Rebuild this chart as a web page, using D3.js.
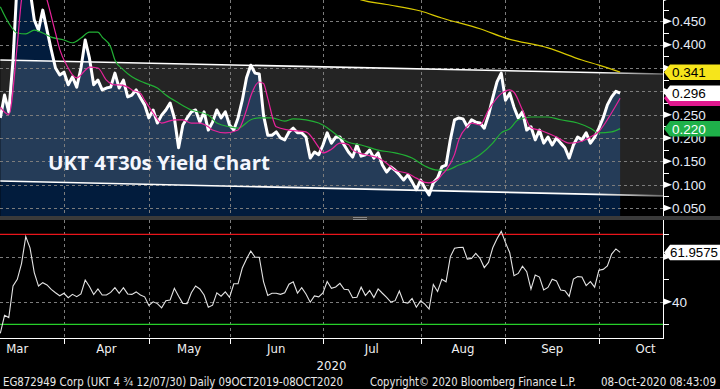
<!DOCTYPE html>
<html>
<head>
<meta charset="utf-8">
<script src="https://d3js.org/d3.v7.min.js"></script>
<style>
  body { margin: 0; background: #000; }
  svg { display: block; }
</style>
</head>
<body>
<script>
// one value per trading day, day 0 = first day in view (mid March 2020), day 146 = 08-Oct-2020
var yields = [0.243,0.292,0.256,0.367,0.539,0.581,0.560,0.517,0.453,0.431,
  0.474,0.431,0.389,0.350,0.335,0.341,0.314,0.331,0.309,0.350,
  0.410,0.371,0.314,0.324,0.303,0.307,0.309,0.339,0.307,0.324,
  0.288,0.292,0.303,0.286,0.271,0.243,0.260,0.232,0.249,0.260,
  0.275,0.243,0.179,0.228,0.243,0.256,0.260,0.234,0.256,0.217,
  0.234,0.260,0.243,0.256,0.228,0.217,0.243,0.281,0.329,0.356,
  0.339,0.337,0.249,0.206,0.206,0.213,0.200,0.196,0.213,0.221,
  0.211,0.211,0.202,0.157,0.170,0.164,0.185,0.211,0.189,0.202,
  0.202,0.185,0.170,0.159,0.185,0.161,0.164,0.174,0.157,0.168,
  0.142,0.127,0.138,0.131,0.121,0.110,0.121,0.106,0.089,0.110,
  0.093,0.078,0.104,0.114,0.138,0.142,0.196,0.239,0.243,0.241,
  0.224,0.239,0.234,0.232,0.221,0.249,0.286,0.320,0.339,0.281,
  0.296,0.266,0.243,0.256,0.217,0.224,0.196,0.217,0.189,0.202,
  0.185,0.200,0.189,0.179,0.157,0.185,0.202,0.196,0.211,0.189,
  0.202,0.221,0.243,0.271,0.288,0.300,0.296];

var rsi = [26,34,33,47,50,57,69,64,53,47,
  48.5,47.5,45.5,44,42.7,43.8,41.8,43.3,42.3,43.5,
  49.7,46.8,43.2,45.7,43,43,44.2,46.3,43.8,46.3,
  43.5,43.3,44.4,43,42.2,38.4,40,39.2,37.3,40.5,
  40.8,46,42.5,39.3,39.2,44,47,45.7,43,37.6,
  38.5,44,42.5,44.4,42,48,48,55,59,62.6,
  59.8,59.8,49,42.8,43.8,43.8,43.3,44,47.8,48.9,
  43.9,46.3,43.5,39.8,42.6,42.2,43.9,49,46,46.6,
  48.2,45.6,45.4,41.8,42,46.5,42.8,45,41.9,45.7,
  43.8,42,39.9,40.5,44.8,39.8,39.4,41.5,37.6,40.4,
  39,36.8,47.7,44.6,50,48.9,60,63.8,64.1,64.2,
  59,59.3,61.5,59.3,55.2,57.5,64,68,71.3,66.3,
  61.8,51.6,52.6,55.8,53.4,45.6,51.9,51,45.3,46.4,
  50,49.3,45.2,44.9,42.4,50.1,51.2,51,47.2,49,
  46.5,54,54.4,55.9,61.2,63.5,61.9575];

// moving averages, read at some of the trading days
var pinkDays = [0,2,4,5,7,9,11,13,14,16,17,18,20,21,23,25,27,28,30,31,33,34,36,38,41,43,45,47,49,50,
  53,56,58,59,61,62,63,65,68,72,75,76,78,80,82,83,86,89,91,93,96,98,100,101,103,104,105,107,108,110,
  111,113,115,118,120,121,123,125,127,129,131,134,137,139,141,144,146];
var pinkVals = [0.266,0.250,0.400,0.496,0.560,0.550,0.496,0.425,0.390,0.350,0.335,0.329,0.345,0.352,0.350,
  0.324,0.314,0.314,0.309,0.303,0.296,0.281,0.254,0.232,0.239,0.239,0.232,0.232,0.224,0.217,
  0.211,0.217,0.260,0.290,0.320,0.317,0.285,0.224,0.217,0.213,0.180,0.168,0.176,0.189,0.186,
  0.174,0.164,0.157,0.146,0.131,0.124,0.114,0.105,0.104,0.111,0.121,0.131,0.165,0.196,0.225,
  0.232,0.228,0.260,0.295,0.303,0.298,0.260,0.222,0.217,0.210,0.202,0.189,0.193,0.202,0.214,
  0.254,0.285];

var greenDays = [0,2,4,6,8,10,12,15,17,19,21,23,24,26,27,29,31,34,37,39,42,45,49,51,54,56,59,61,64,67,
  69,72,75,77,79,82,85,89,93,97,100,103,105,108,111,113,116,118,120,122,125,129,132,136,139,141,144,146];
var greenVals = [0.481,0.446,0.425,0.423,0.431,0.425,0.416,0.410,0.404,0.414,0.427,0.427,0.416,0.395,0.367,
  0.346,0.331,0.318,0.307,0.292,0.275,0.260,0.249,0.232,0.224,0.221,0.239,0.243,0.243,0.236,
  0.241,0.239,0.232,0.222,0.208,0.191,0.185,0.174,0.168,0.157,0.140,0.131,0.131,0.142,0.153,
  0.164,0.189,0.211,0.220,0.239,0.245,0.245,0.239,0.232,0.221,0.211,0.213,0.220];

var yellowDays = [80,85,91,99,104,113,119,129,137,141,146];
var yellowVals = [0.514,0.496,0.486,0.472,0.457,0.434,0.414,0.393,0.367,0.356,0.341];

// trend channel, value at left edge and right edge of the plot
var channelTop = [0.367, 0.337];
var channelBottom = [0.108, 0.076];

var months = ["Mar", "Apr", "May", "Jun", "Jul", "Aug", "Sep", "Oct"];
var monthStart = [-7, 15, 35, 54, 76, 99, 119, 141, 163];
var yieldTicks = [0.05, 0.10, 0.15, 0.20, 0.25, 0.30, 0.35, 0.40, 0.45, 0.50];
var yieldLabels = [0.05, 0.10, 0.15, 0.20, 0.25, 0.40, 0.45];
var rsiGrid = [40, 60];
var rsiMinor = [30, 50, 70];
var rsiLabels = [40];
var rsiLevels = [70, 30];

var W = 720, H = 389;
var axisX = 663, topBottom = 216, botTop = 220, botBottom = 338;
var lastDay = yields.length - 1;

var x = d3.scaleLinear().domain([0, 156.1]).range([0.3, axisX]);
var y = d3.scaleLinear().domain([0.05, 0.45]).range([208, 21.3]);
var yR = d3.scaleLinear().domain([30, 70]).range([324.3, 234.3]);

var labelFont = "'Liberation Sans', Arial, sans-serif";
var narrowFont = "'Liberation Sans Narrow', 'DejaVu Sans Condensed', 'Arial Narrow', sans-serif";

var svg = d3.select("body").append("svg").attr("width", W).attr("height", H);
svg.append("rect").attr("width", W).attr("height", H).attr("fill", "#000");

var defs = svg.append("defs");
defs.append("clipPath").attr("id", "clipTop").append("rect")
  .attr("x", 0).attr("y", 0).attr("width", axisX).attr("height", topBottom);
defs.append("clipPath").attr("id", "clipBot").append("rect")
  .attr("x", 0).attr("y", botTop).attr("width", axisX).attr("height", botBottom - botTop);
var fade = defs.append("linearGradient").attr("id", "fade")
  .attr("gradientUnits", "userSpaceOnUse")
  .attr("x1", 0).attr("x2", axisX).attr("y1", 0).attr("y2", 0);
fade.append("stop").attr("offset", 0.9).attr("stop-color", "#ffffff");
fade.append("stop").attr("offset", 1).attr("stop-color", "#6a6a6a");

/* ---------------- price panel ---------------- */
var topG = svg.append("g").attr("clip-path", "url(#clipTop)");

var area = d3.area().x(function(d, i) { return x(i); }).y0(topBottom).y1(function(d) { return y(d); });
topG.append("path").datum(yields).attr("d", area).attr("fill", "#021c3d");

var xEnd = x.domain()[1];
var chan = d3.area()
  .x(function(d) { return x(d); })
  .y0(function(d, i) { return y(channelBottom[i]); })
  .y1(function(d, i) { return y(channelTop[i]); });
topG.append("path").datum([0, xEnd]).attr("d", chan).attr("fill", "rgba(255,255,255,0.14)");

topG.selectAll("line.hgrid").data(yieldTicks.slice(0, 9)).enter().append("line")
  .attr("x1", 0).attr("x2", axisX)
  .attr("y1", function(d) { return Math.round(y(d)) + 0.5; })
  .attr("y2", function(d) { return Math.round(y(d)) + 0.5; })
  .attr("stroke", "#7c7c7c").attr("stroke-dasharray", "3,3");

topG.selectAll("line.vgrid").data(monthStart.slice(1, 8)).enter().append("line")
  .attr("x1", function(d) { return Math.round(x(d)) + 0.5; })
  .attr("x2", function(d) { return Math.round(x(d)) + 0.5; })
  .attr("y1", 0).attr("y2", topBottom)
  .attr("stroke", "#7c7c7c").attr("stroke-dasharray", "3,3");

[channelTop, channelBottom].forEach(function(c) {
  topG.append("line")
    .attr("x1", x(0)).attr("y1", y(c[0]))
    .attr("x2", x(xEnd)).attr("y2", y(c[1]) + 0.01)
    .attr("stroke", "url(#fade)").attr("stroke-width", 1.6);
});

var line = d3.line().x(function(d, i) { return x(i); }).y(function(d) { return y(d); });
topG.append("path").datum(yields).attr("d", line)
  .attr("fill", "none").attr("stroke", "#ffffff").attr("stroke-width", 3).attr("stroke-linejoin", "round");

function maLine(days, vals, color) {
  var l = d3.line().curve(d3.curveMonotoneX)
    .x(function(d, i) { return x(days[i]); })
    .y(function(d) { return y(d); });
  topG.append("path").datum(vals).attr("d", l)
    .attr("fill", "none").attr("stroke", color).attr("stroke-width", 1.2);
}
maLine(greenDays, greenVals, "#22b035");
maLine(pinkDays, pinkVals, "#e8239b");
maLine(yellowDays, yellowVals, "#d8c800");

topG.append("text").attr("x", 48).attr("y", 170)
  .attr("fill", "#f4f7ff").attr("font-family", "'Open Sans', sans-serif")
  .attr("font-weight", 700).attr("font-size", 19)
  .attr("textLength", 222).attr("lengthAdjust", "spacingAndGlyphs")
  .text("UKT 4T30s Yield Chart");

/* separator */
svg.append("rect").attr("x", 0).attr("y", topBottom).attr("width", W).attr("height", botTop - topBottom)
  .attr("fill", "#3a3a3a");
svg.append("line").attr("x1", 353).attr("x2", 367).attr("y1", 217.5).attr("y2", 217.5).attr("stroke", "#8a8a8a");
svg.append("line").attr("x1", 353).attr("x2", 367).attr("y1", 219.5).attr("y2", 219.5).attr("stroke", "#8a8a8a");

/* right axis of price panel */
svg.append("line").attr("x1", axisX + 0.5).attr("x2", axisX + 0.5).attr("y1", 0).attr("y2", topBottom)
  .attr("stroke", "#fff");
var minor = d3.range(0.075, 0.5, 0.05);
svg.selectAll("line.ymin").data(minor).enter().append("line")
  .attr("x1", axisX).attr("x2", axisX + 6)
  .attr("y1", function(d) { return Math.round(y(d)) + 0.5; })
  .attr("y2", function(d) { return Math.round(y(d)) + 0.5; })
  .attr("stroke", "#fff");
function arrow(yy) {
  return "M" + axisX + "," + (yy - 3.5) + "L" + (axisX + 9) + "," + yy + "L" + axisX + "," + (yy + 3.5) + "Z";
}
svg.selectAll("path.ymaj").data(yieldTicks).enter().append("path")
  .attr("d", function(d) { return arrow(y(d)); }).attr("fill", "#fff");
svg.selectAll("text.ylab").data(yieldLabels).enter().append("text")
  .attr("x", 672).attr("y", function(d) { return y(d); }).attr("dy", "0.36em")
  .attr("fill", "#e6ecf7").attr("font-family", labelFont).attr("font-size", 13.5)
  .text(function(d) { return d3.format(".3f")(d); });

function valueBox(yc, fill, textFill, label) {
  var h = 15.5;
  svg.append("path")
    .attr("d", "M" + (axisX + 1) + "," + yc + "L" + (axisX + 7) + "," + (yc - h / 2) + "L" + W + "," + (yc - h / 2) +
      "L" + W + "," + (yc + h / 2) + "L" + (axisX + 7) + "," + (yc + h / 2) + "Z")
    .attr("fill", fill);
  if (label) {
    var t = svg.append("text").attr("x", 672).attr("y", yc).attr("dy", "0.36em")
      .attr("fill", textFill).attr("font-family", labelFont).attr("font-size", 13.5)
      .text(label);
    if (label.length > 5) t.attr("x", 670).attr("font-size", 12.5)
      .attr("textLength", 48).attr("lengthAdjust", "spacingAndGlyphs");
  }
}
var f3 = d3.format(".3f");
valueBox(y(yellowVals[yellowVals.length - 1]), "#f6e51b", "#000", f3(yellowVals[yellowVals.length - 1]));
valueBox(y(pinkVals[pinkVals.length - 1]), "#e0188e", "#000", null);
valueBox(y(yields[lastDay]), "#ffffff", "#000", f3(yields[lastDay]));
valueBox(y(greenVals[greenVals.length - 1]), "#1fb14a", "#fff", f3(greenVals[greenVals.length - 1]));

/* ---------------- RSI panel ---------------- */
var botG = svg.append("g").attr("clip-path", "url(#clipBot)");
botG.selectAll("line.rgrid").data(rsiGrid).enter().append("line")
  .attr("x1", 0).attr("x2", axisX)
  .attr("y1", function(d) { return Math.round(yR(d)) + 0.5; })
  .attr("y2", function(d) { return Math.round(yR(d)) + 0.5; })
  .attr("stroke", "#7c7c7c").attr("stroke-dasharray", "3,3");
botG.selectAll("line.vgrid").data(monthStart.slice(1, 8)).enter().append("line")
  .attr("x1", function(d) { return Math.round(x(d)) + 0.5; })
  .attr("x2", function(d) { return Math.round(x(d)) + 0.5; })
  .attr("y1", botTop).attr("y2", botBottom)
  .attr("stroke", "#7c7c7c").attr("stroke-dasharray", "3,3");
botG.selectAll("line.level").data(rsiLevels).enter().append("line")
  .attr("x1", 0).attr("x2", axisX)
  .attr("y1", function(d) { return yR(d); }).attr("y2", function(d) { return yR(d); })
  .attr("stroke", function(d, i) { return i == 0 ? "#e8151b" : "#27cf2a"; }).attr("stroke-width", 1.3);
var rline = d3.line().x(function(d, i) { return x(i); }).y(function(d) { return yR(d); });
botG.append("path").datum(rsi).attr("d", rline)
  .attr("fill", "none").attr("stroke", "#e4e4e4").attr("stroke-width", 1.1);

svg.append("line").attr("x1", axisX + 0.5).attr("x2", axisX + 0.5).attr("y1", botTop).attr("y2", botBottom + 1)
  .attr("stroke", "#fff");
svg.append("line").attr("x1", 0).attr("x2", axisX + 1).attr("y1", botBottom + 0.5).attr("y2", botBottom + 0.5)
  .attr("stroke", "#fff");
svg.selectAll("line.rmin").data(rsiMinor).enter().append("line")
  .attr("x1", axisX).attr("x2", axisX + 6)
  .attr("y1", function(d) { return Math.round(yR(d)) + 0.5; })
  .attr("y2", function(d) { return Math.round(yR(d)) + 0.5; })
  .attr("stroke", "#fff");
svg.selectAll("path.rmaj").data(rsiGrid).enter().append("path")
  .attr("d", function(d) { return arrow(yR(d)); }).attr("fill", "#fff");
svg.selectAll("text.rlab").data(rsiLabels).enter().append("text")
  .attr("x", 672).attr("y", function(d) { return yR(d); }).attr("dy", "0.36em")
  .attr("fill", "#e6ecf7").attr("font-family", labelFont).attr("font-size", 13.5)
  .text(function(d) { return d; });
valueBox(yR(rsi[lastDay]), "#ffffff", "#000", d3.format(".4f")(rsi[lastDay]));

/* ---------------- date axis ---------------- */
svg.selectAll("line.xtick").data(monthStart.slice(1, 8)).enter().append("line")
  .attr("x1", function(d) { return Math.round(x(d)) + 0.5; })
  .attr("x2", function(d) { return Math.round(x(d)) + 0.5; })
  .attr("y1", botBottom).attr("y2", botBottom + 6)
  .attr("stroke", "#fff");
svg.selectAll("text.month").data(months).enter().append("text")
  .attr("x", function(d, i) { return x((monthStart[i] + monthStart[i + 1]) / 2); })
  .attr("y", 353).attr("text-anchor", "middle")
  .attr("fill", "#f0f0f0").attr("font-family", narrowFont).attr("font-size", 13)
  .text(function(d) { return d; });
svg.append("text").attr("x", axisX / 2).attr("y", 370).attr("text-anchor", "middle")
  .attr("fill", "#f0f0f0").attr("font-family", narrowFont).attr("font-size", 13)
  .text("2020");

var footer = [
  { x: 3, w: 340, t: "EG872949 Corp (UKT 4 \u00be 12/07/30)  Daily 09OCT2019-08OCT2020" },
  { x: 370, w: 206, t: "Copyright\u00a9 2020 Bloomberg Finance L.P." },
  { x: 601, w: 115, t: "08-Oct-2020 08:43:09" }
];
svg.selectAll("text.foot").data(footer).enter().append("text")
  .attr("x", function(d) { return d.x; }).attr("y", 386)
  .attr("textLength", function(d) { return d.w; }).attr("lengthAdjust", "spacingAndGlyphs")
  .attr("fill", "#e8e8e8").attr("font-family", narrowFont).attr("font-size", 11.5)
  .text(function(d) { return d.t; });
</script>
</body>
</html>
